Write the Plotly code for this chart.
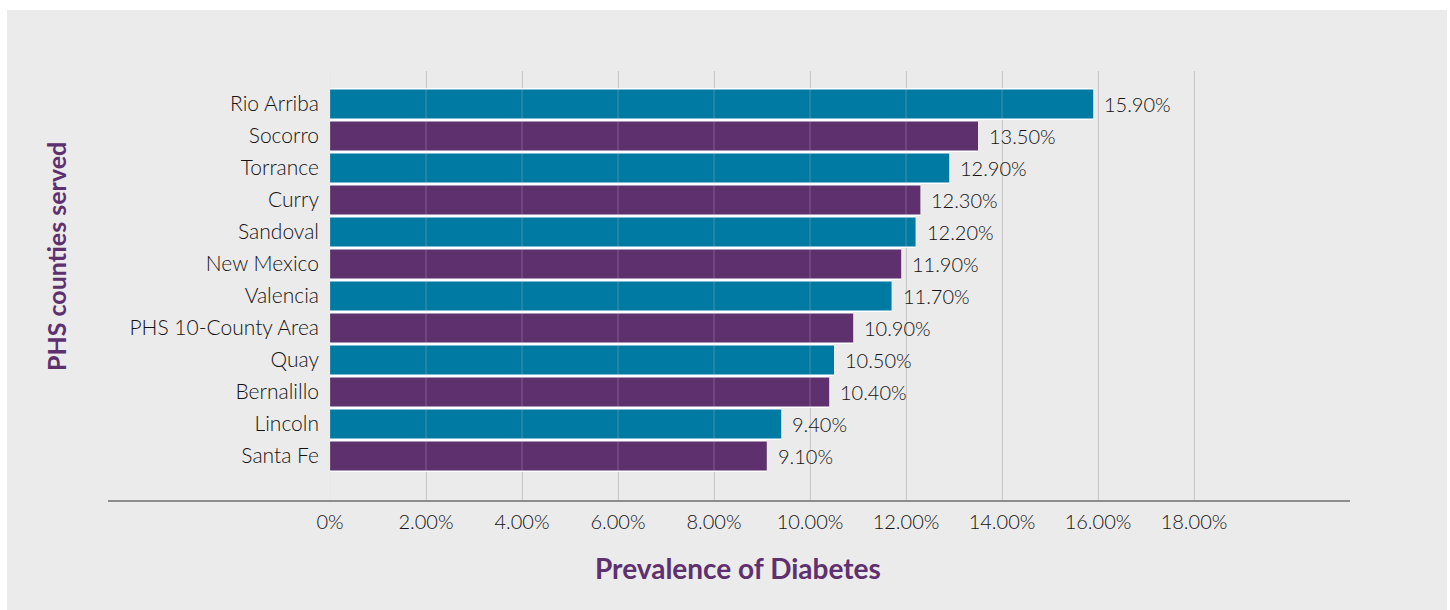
import plotly.graph_objects as go

# Diabetes prevalence by county (percent), listed top to bottom
counties = [
    "Rio Arriba", "Socorro", "Torrance", "Curry", "Sandoval", "New Mexico",
    "Valencia", "PHS 10-County Area", "Quay", "Bernalillo", "Lincoln", "Santa Fe",
]
prevalence = [15.9, 13.5, 12.9, 12.3, 12.2, 11.9, 11.7, 10.9, 10.5, 10.4, 9.4, 9.1]

tick_values = [0, 2, 4, 6, 8, 10, 12, 14, 16, 18]
tick_labels = ["0%", "2.00%", "4.00%", "6.00%", "8.00%", "10.00%",
               "12.00%", "14.00%", "16.00%", "18.00%"]

TEAL = "#0079a3"
PURPLE = "#5e306e"
TEXT = "#141213"
FONT = "Lato"

bar_colors = [TEAL if i % 2 == 0 else PURPLE for i in range(len(counties))]

W, H = 1450, 610
L, R, T, B = 330, 100, 71, 109
plot_w = W - L - R
plot_h = H - T - B


def px_x(px):
    return (px - L) / plot_w


def px_y(py):
    return (H - B - py) / plot_h


fig = go.Figure()

# White backing bars fill the full row so the gaps between bars read white
fig.add_trace(go.Bar(
    x=prevalence, y=counties, orientation="h", width=1.0,
    marker=dict(color="white", line=dict(width=0)),
    hoverinfo="skip",
))
fig.add_trace(go.Bar(
    x=prevalence, y=counties, orientation="h", width=0.906,
    marker=dict(color=bar_colors, line=dict(width=0)),
    hoverinfo="skip",
))

# Value labels at the end of each bar
for name, val in zip(counties, prevalence):
    fig.add_annotation(
        x=val, y=name, xref="x", yref="y",
        text=f"{val:.2f}%", showarrow=False,
        xanchor="left", yanchor="middle", xshift=9,
        font=dict(family=FONT, size=20, color=TEXT, weight=300),
    )

# Grey card behind the chart
fig.add_shape(
    type="rect", xref="paper", yref="paper", layer="below",
    x0=px_x(7), x1=px_x(1447), y0=px_y(612), y1=px_y(10),
    fillcolor="#ebebeb", line=dict(width=0),
)

# Faint gridlines drawn over the bars
for v in tick_values:
    fig.add_shape(
        type="line", xref="x", yref="paper", layer="above",
        x0=v, x1=v, y0=0, y1=1,
        line=dict(color="rgba(205,205,205,0.3)", width=1),
    )

# Baseline extending under the category labels
fig.add_shape(
    type="line", xref="paper", yref="paper", layer="above",
    x0=px_x(108), x1=1.0, y0=0, y1=0,
    line=dict(color="#6d6e71", width=1.5),
)

fig.add_annotation(
    x=px_x(738), y=px_y(568), xref="paper", yref="paper",
    xanchor="center", yanchor="middle",
    text="<b>Prevalence of Diabetes</b>", showarrow=False,
    font=dict(family=FONT, size=28, color=PURPLE),
)
fig.add_annotation(
    x=px_x(56), y=px_y(257), xref="paper", yref="paper",
    xanchor="center", yanchor="middle",
    text="<b>PHS counties served</b>", showarrow=False, textangle=-90,
    font=dict(family=FONT, size=25, color=PURPLE),
)

fig.update_layout(
    width=W, height=H,
    margin=dict(l=L, r=R, t=T, b=B, pad=0),
    paper_bgcolor="white",
    plot_bgcolor="rgba(0,0,0,0)",
    barmode="overlay",
    showlegend=False,
    font=dict(family=FONT, size=20, color=TEXT),
    xaxis=dict(
        range=[0, (1350 - L) / 48.0],
        tickvals=tick_values, ticktext=tick_labels,
        showgrid=True, gridcolor="#c6c6c6", gridwidth=1,
        zeroline=False, showline=False, ticks="",
        ticklabelstandoff=7,
        tickfont=dict(family=FONT, size=20, color=TEXT, weight=300),
        fixedrange=True,
    ),
    yaxis=dict(
        type="category",
        categoryorder="array", categoryarray=counties,
        range=[12.406, -1.031],
        showgrid=False, zeroline=False, showline=False, ticks="",
        ticklabelstandoff=10,
        tickfont=dict(family=FONT, size=21, color=TEXT, weight=300),
        fixedrange=True,
    ),
)

fig.write_html("out.html")
